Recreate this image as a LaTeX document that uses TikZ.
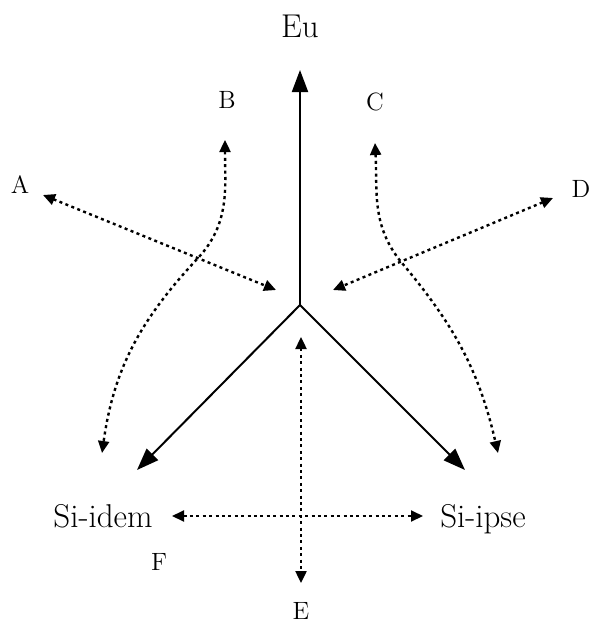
\documentclass[tikz,border=0pt]{standalone}
\usepackage{tikz}
\usetikzlibrary{arrows.meta,positioning}
\tikzset{
  self/.style={-{Triangle[length=11pt,width=8pt]}, line width=1pt, black},
  link/.style={{Triangle[length=6pt,width=5.5pt]}-{Triangle[length=6pt,width=5.5pt]}, line width=1.2pt, dash pattern=on 1.5pt off 1.7pt},
  term/.style={font=\fontsize{16.5}{18}\selectfont, anchor=base, inner sep=0pt},
  tag/.style={font=\fontsize{12.5}{14}\selectfont, anchor=base, inner sep=0pt}
}

\begin{document}
\begin{tikzpicture}[x=0.5pt,y=-0.5pt]
  \useasboundingbox (0,0) rectangle (590,621);
  % the three terms and the solid arrows from the centre
  \node[term] (eu) at (300,38) {Eu};
  \node[term] (idem) at (103,527) {Si-idem};
  \node[term] (ipse) at (483,527) {Si-ipse};
  \coordinate (j) at (300,305);
  \coordinate (euTip) at (300,70);
  \coordinate (idemTip) at (137,470);
  \coordinate (ipseTip) at (465,470);
  \draw[self] (j) -- (euTip);
  \draw[self] (j) -- (idemTip);
  \draw[self] (j) -- (ipseTip);
  % letter tags
  \node[tag] (a) at (20,193) {A};
  \node[tag] (b) at (227,108) {B};
  \node[tag] (c) at (375,110) {C};
  \node[tag] (d) at (581,197) {D};
  \node[tag] (e) at (301,619) {E};
  \node[tag] (f) at (159,570) {F};
  % ends of the dotted arrows
  \coordinate (aOut) at (43,195);   \coordinate (aIn) at (276,290);
  \coordinate (dOut) at (553,198);  \coordinate (dIn) at (333,290);
  \coordinate (bTop) at (225,140);  \coordinate (bMid) at (198,258);  \coordinate (bLow) at (102,453);
  \coordinate (cTop) at (375,143);  \coordinate (cMid) at (402,263);  \coordinate (cLow) at (498,453);
  \coordinate (eTop) at (301,337);  \coordinate (eLow) at (301,583);
  \coordinate (fL) at (172,516);    \coordinate (fR) at (423,516);
  \draw[link] (aOut) -- (aIn);
  \draw[link] (dOut) -- (dIn);
  \draw[link] (bTop) to[out=-90,in=47] (bMid) to[out=227,in=82] (bLow);
  \draw[link] (cTop) to[out=-87,in=130] (cMid) to[out=-50,in=103] (cLow);
  \draw[link] (eTop) -- (eLow);
  \draw[link, line width=1pt] (fL) -- (fR);
\end{tikzpicture}
\end{document}
